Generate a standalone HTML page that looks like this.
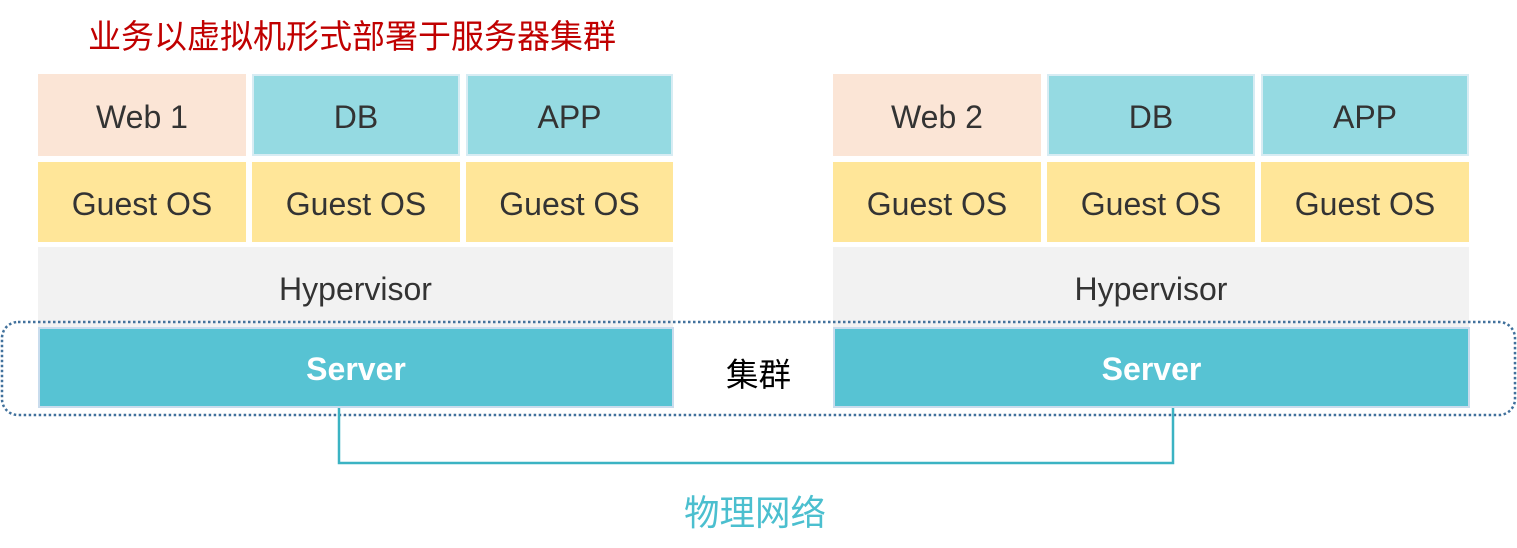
<!DOCTYPE html>
<html><head><meta charset="utf-8"><style>
html,body{margin:0;padding:0;background:#fff;}
body{width:1517px;height:548px;position:relative;overflow:hidden;font-family:"Liberation Sans","Noto Sans CJK SC",sans-serif;}
.b{position:absolute;display:flex;align-items:center;justify-content:center;font-size:32px;color:#333;box-sizing:border-box;padding-top:5px;}
.w{background:#fbe5d6;}
.d{background:#95dae2;border:2px solid #d7ecf3;}
.g{background:#ffe699;}
.h{background:#f2f2f2;}
.s{background:#57c3d3;border:2px solid #c9dced;color:#fff;font-weight:bold;font-size:32px;}
.t{position:absolute;white-space:nowrap;}
</style></head><body>
<div class="t" style="left:88px;top:10px;font-size:33px;color:#c00000;">业务以虚拟机形式部署于服务器集群</div>

<div class="b w" style="left:38px;top:74px;width:208px;height:82px;">Web 1</div>
<div class="b d" style="left:252px;top:74px;width:208px;height:82px;">DB</div>
<div class="b d" style="left:466px;top:74px;width:207px;height:82px;">APP</div>
<div class="b g" style="left:38px;top:162px;width:208px;height:80px;">Guest OS</div>
<div class="b g" style="left:252px;top:162px;width:208px;height:80px;">Guest OS</div>
<div class="b g" style="left:466px;top:162px;width:207px;height:80px;">Guest OS</div>
<div class="b h" style="left:38px;top:247px;width:635px;height:81px;padding-top:4px;">Hypervisor</div>

<div class="b w" style="left:833px;top:74px;width:208px;height:82px;">Web 2</div>
<div class="b d" style="left:1047px;top:74px;width:208px;height:82px;">DB</div>
<div class="b d" style="left:1261px;top:74px;width:208px;height:82px;">APP</div>
<div class="b g" style="left:833px;top:162px;width:208px;height:80px;">Guest OS</div>
<div class="b g" style="left:1047px;top:162px;width:208px;height:80px;">Guest OS</div>
<div class="b g" style="left:1261px;top:162px;width:208px;height:80px;">Guest OS</div>
<div class="b h" style="left:833px;top:247px;width:636px;height:81px;padding-top:4px;">Hypervisor</div>

<div class="b s" style="left:38px;top:327px;width:636px;height:81px;padding-top:3px;">Server</div>
<div class="b s" style="left:833px;top:327px;width:637px;height:81px;padding-top:3px;">Server</div>

<svg style="position:absolute;left:0;top:0" width="1517" height="548">
<rect x="2" y="322" width="1513" height="93" rx="16" ry="16" fill="none" stroke="#41719c" stroke-width="2.5" stroke-dasharray="2.5 2.5"/>
<polyline points="339,408 339,463 1173,463 1173,408" fill="none" stroke="#3bb3c3" stroke-width="2.5"/>
</svg>

<div class="t" style="left:726px;top:349px;font-size:32.5px;color:#000;">集群</div>
<div class="t" style="left:684px;top:485px;font-size:35.5px;color:#4bbfcf;">物理网络</div>
</body></html>
